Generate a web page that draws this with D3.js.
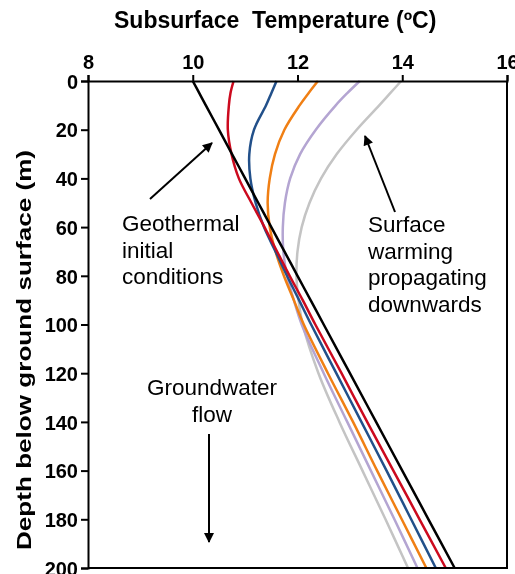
<!DOCTYPE html>
<html>
    <head>
        <meta charset="utf-8">
        <script src="https://d3js.org/d3.v7.min.js"></script>
        <style>
            body { margin:0;position:fixed;top:0;right:0;bottom:0;left:0;background:#fff; }
            text { font-family: "Liberation Sans", Arial, Helvetica, sans-serif; }
        </style>
    </head>

    <body>
        <script>
            // depth (m) and temperature (C)
            var depths = [0, 5, 10, 20, 30, 40, 50, 60, 70, 80, 90, 100, 120, 140, 160, 180, 200];
            var geothermal = [10, 10.125, 10.25, 10.5, 10.75, 11, 11.25, 11.5, 11.75, 12, 12.25, 12.5, 13, 13.5, 14, 14.5, 15];
            var red = [10.78, 10.72, 10.69, 10.67, 10.74, 10.88, 11.12, 11.37, 11.61, 11.85, 12.1, 12.34, 12.84, 13.33, 13.83, 14.33, 14.83];
            var blue = [11.6, 11.5, 11.4, 11.17, 11.08, 11.1, 11.2, 11.36, 11.58, 11.8, 12.03, 12.26, 12.74, 13.22, 13.7, 14.17, 14.64];
            var orange = [12.39, 12.21, 12.04, 11.75, 11.57, 11.47, 11.43, 11.47, 11.58, 11.74, 11.93, 12.12, 12.58, 13.06, 13.52, 13.99, 14.46];
            var lavender = [13.19, 12.95, 12.73, 12.35, 12.05, 11.86, 11.76, 11.72, 11.73, 11.8, 11.93, 12.08, 12.5, 12.95, 13.4, 13.85, 14.29];
            var grey = [13.98, 13.77, 13.56, 13.13, 12.75, 12.45, 12.23, 12.08, 12.0, 11.98, 12.02, 12.1, 12.4, 12.8, 13.24, 13.68, 14.11];

            var tempTicks = [8, 10, 12, 14, 16];
            var depthTicks = [0, 20, 40, 60, 80, 100, 120, 140, 160, 180, 200];

            var series = [
                {values: grey, color: "#c4c4c4"},
                {values: lavender, color: "#b4a5d2"},
                {values: orange, color: "#f07f14"},
                {values: blue, color: "#22508a"},
                {values: red, color: "#cc0a1e"},
                {values: geothermal, color: "#000000"}
            ];

            var width = 515,
                height = 574;

            var x = d3.scaleLinear().domain([8, 16]).range([88, 507]);
            var y = d3.scaleLinear().domain([0, 200]).range([81, 568]);

            var svg = d3.select("body").append("svg")
                    .attr("width", width)
                    .attr("height", height);

            svg.append("defs").append("marker")
                    .attr("id", "arrow")
                    .attr("viewBox", "0 0 10 10")
                    .attr("refX", 9)
                    .attr("refY", 5)
                    .attr("markerWidth", 6)
                    .attr("markerHeight", 5)
                    .attr("markerUnits", "strokeWidth")
                    .attr("orient", "auto")
                    .append("path")
                    .attr("d", "M0,0 L10,5 L0,10 z")
                    .attr("fill", "#000");

            var line = d3.line()
                    .x(function (d) { return x(d[1]); })
                    .y(function (d) { return y(d[0]); })
                    .curve(d3.curveCatmullRom);

            svg.selectAll("path.profile")
                    .data(series)
                    .enter().append("path")
                    .attr("class", "profile")
                    .attr("d", function (s) {
                        return line(depths.map(function (z, i) { return [z, s.values[i]]; }));
                    })
                    .attr("fill", "none")
                    .attr("stroke", function (s) { return s.color; })
                    .attr("stroke-width", 2.5);

            // frame (right and bottom)
            svg.append("path")
                    .attr("d", "M" + x(16) + "," + y(0) + "V" + y(200) + "H" + x(8))
                    .attr("fill", "none")
                    .attr("stroke", "#000")
                    .attr("stroke-width", 2);

            var xAxis = d3.axisTop(x).tickValues(tempTicks).tickSize(6).tickPadding(6);
            var yAxis = d3.axisLeft(y).tickValues(depthTicks).tickSize(7).tickPadding(3);

            var gx = svg.append("g")
                    .attr("transform", "translate(0," + y(0) + ")")
                    .call(xAxis);
            var gy = svg.append("g")
                    .attr("transform", "translate(" + x(8) + ",0)")
                    .call(yAxis);

            [gx, gy].forEach(function (g) {
                g.select(".domain").attr("stroke-width", 2);
                g.selectAll(".tick line").attr("stroke-width", 2);
                g.selectAll(".tick text")
                        .style("font-family", '"Liberation Sans", Arial, sans-serif')
                        .style("font-size", "20px")
                        .style("font-weight", "bold")
                        .attr("fill", "#000");
            });
            gy.selectAll(".tick text").attr("dy", "0.36em");

            svg.append("text")
                    .attr("x", 114)
                    .attr("y", 28)
                    .style("font-size", "23px")
                    .style("font-weight", "bold")
                    .attr("xml:space", "preserve")
                    .text("Subsurface  Temperature (\u00baC)");

            svg.append("text")
                    .attr("transform", "translate(31,350) rotate(-90)")
                    .attr("text-anchor", "middle")
                    .style("font-size", "21px")
                    .style("font-weight", "bold")
                    .attr("textLength", 400)
                    .attr("lengthAdjust", "spacingAndGlyphs")
                    .text("Depth below ground surface (m)");

            function block(lines, px, py, anchor) {
                var t = svg.append("text")
                        .attr("text-anchor", anchor)
                        .style("font-size", "22.5px");
                lines.forEach(function (s, i) {
                    t.append("tspan").attr("x", px).attr("y", py + i * 26.7).text(s);
                });
            }

            block(["Geothermal", "initial", "conditions"], 122, 231, "start");
            block(["Surface", "warming", "propagating", "downwards"], 368, 232, "start");
            block(["Groundwater", "flow"], 212, 395, "middle");

            var arrows = [
                [150, 199, 212, 143],
                [395, 212, 365, 136],
                [209, 434, 209, 542]
            ];
            svg.selectAll("line.arrow")
                    .data(arrows)
                    .enter().append("line")
                    .attr("class", "arrow")
                    .attr("x1", function (d) { return d[0]; })
                    .attr("y1", function (d) { return d[1]; })
                    .attr("x2", function (d) { return d[2]; })
                    .attr("y2", function (d) { return d[3]; })
                    .attr("stroke", "#000")
                    .attr("stroke-width", 2)
                    .attr("marker-end", "url(#arrow)");
        </script>
    </body>
</html>
